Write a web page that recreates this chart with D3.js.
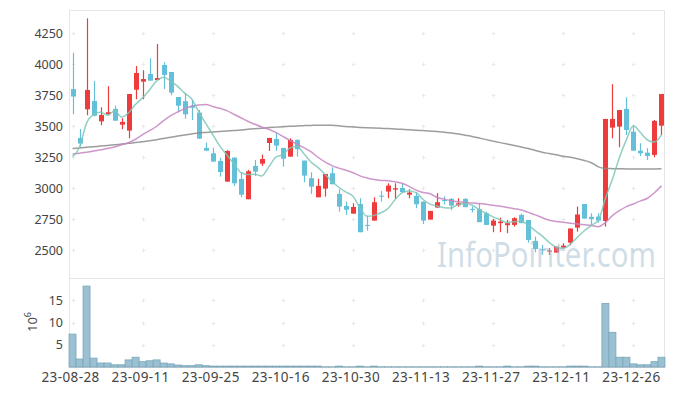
<!DOCTYPE html>
<html><head><meta charset="utf-8">
<script src="https://cdn.jsdelivr.net/npm/d3@7"></script>
<style>body{margin:0;background:#fff} svg{display:block} text{font-family:"Noto Sans",sans-serif}</style>
</head><body><svg id="c" width="673" height="396"></svg>
<script>
const dates = ["23-08-28","23-08-29","23-08-30","23-08-31","23-09-01","23-09-04","23-09-05","23-09-06","23-09-07","23-09-08",
"23-09-11","23-09-12","23-09-13","23-09-14","23-09-15","23-09-18","23-09-19","23-09-20","23-09-21","23-09-22",
"23-09-25","23-09-26","23-09-27","23-10-04","23-10-05","23-10-06","23-10-10","23-10-11","23-10-12","23-10-13",
"23-10-16","23-10-17","23-10-18","23-10-19","23-10-20","23-10-23","23-10-24","23-10-25","23-10-26","23-10-27",
"23-10-30","23-10-31","23-11-01","23-11-02","23-11-03","23-11-06","23-11-07","23-11-08","23-11-09","23-11-10",
"23-11-13","23-11-14","23-11-15","23-11-16","23-11-17","23-11-20","23-11-21","23-11-22","23-11-23","23-11-24",
"23-11-27","23-11-28","23-11-29","23-11-30","23-12-01","23-12-04","23-12-05","23-12-06","23-12-07","23-12-08",
"23-12-11","23-12-12","23-12-13","23-12-14","23-12-15","23-12-18","23-12-19","23-12-20","23-12-21","23-12-22",
"23-12-26","23-12-27","23-12-28","24-01-02","24-01-03"];
const open  = [3800,3406,3637,3704,3540,3597,3640,3513,3465,3795,3860,3922,3873,3994,3938,3736,3702,3666,3610,3325,
3282,3220,3053,3247,3075,2911,3180,3198,3365,3397,3325,3255,3390,3223,3081,2927,2997,3121,2954,2857,
2795,2873,2704,2739,2940,2973,2989,3002,2948,2938,2892,2747,2844,2905,2914,2863,2914,2833,2831,2798,
2698,2718,2702,2704,2785,2744,2575,2508,2490,2481,2521,2561,2682,2873,2769,2771,2736,3489,3497,3640,
3456,3303,3287,3269,3505];
const high  = [4093,3478,4371,3865,3653,3823,3666,3565,3760,3986,3952,4048,4164,4016,3938,3736,3766,3712,3631,3368,
3327,3247,3306,3247,3129,3148,3228,3271,3406,3448,3325,3403,3395,3223,3129,3077,3115,3169,2992,2892,
2879,2919,2779,2927,2978,3040,3040,3035,2992,2968,2892,2817,2960,2935,2920,2919,2920,2852,2879,2810,
2752,2763,2744,2766,2795,2744,2610,2543,2516,2529,2556,2675,2852,2873,2798,2798,3559,3839,3631,3734,
3497,3363,3323,3551,3760];
const low   = [3597,3335,3589,3580,3508,3589,3545,3476,3403,3718,3718,3868,3873,3800,3750,3618,3561,3550,3400,3303,
3215,3094,3053,3019,2927,2911,3099,3180,3301,3301,3174,3255,3255,3048,2954,2927,2932,3032,2811,2785,
2795,2645,2658,2739,2892,2919,2914,2968,2919,2839,2710,2747,2844,2870,2824,2852,2847,2806,2726,2704,
2645,2645,2637,2690,2718,2561,2484,2463,2462,2481,2516,2540,2650,2755,2704,2723,2690,3403,3331,3430,
3303,3260,3228,3250,3430];
const close = [3740,3360,3793,3585,3591,3613,3545,3535,3760,3930,3881,3868,3889,3914,3771,3666,3597,3650,3400,3303,
3215,3131,3301,3040,2948,3137,3134,3236,3406,3344,3239,3390,3315,3102,3013,3019,3115,3032,2852,2827,
2849,2645,2696,2887,2932,3021,3000,2968,2965,2871,2739,2817,2887,2900,2860,2879,2847,2828,2726,2704,
2739,2731,2718,2758,2718,2583,2510,2502,2497,2529,2537,2675,2788,2755,2750,2739,3559,3559,3631,3470,
3303,3282,3260,3543,3760];
// volume, millions of shares
const volume = [7.4,1.8,18.2,2.0,0.9,0.9,0.5,0.5,1.6,2.2,1.2,1.4,1.6,0.9,0.7,0.45,0.3,0.3,0.5,0.3,
0.2,0.2,0.2,0.2,0.2,0.2,0.2,0.2,0.2,0.2,0.2,0.2,0.2,0.2,0.2,0.2,0.05,0.05,0.2,0.05,
0.05,0.2,0.05,0.2,0.05,0.05,0.05,0.05,0.05,0.05,0.05,0.05,0.05,0.05,0.05,0.05,0.05,0.05,0.2,0.05,
0.05,0.05,0.2,0.05,0.05,0.2,0.2,0.05,0.05,0.05,0.05,0.2,0.2,0.2,0.05,0.05,14.3,7.8,2.2,2.2,
0.7,0.5,0.5,1.2,2.2];
const ma5 = [3255,3330,3525,3595,3614,3588,3625,3574,3609,3677,3730,3795,3866,3896,3865,3822,3767,3720,3617,3523,
3433,3340,3270,3198,3127,3111,3112,3099,3172,3251,3272,3323,3339,3278,3212,3168,3113,3056,3006,2969,
2935,2841,2774,2781,2802,2836,2907,2962,2977,2965,2909,2872,2856,2843,2841,2869,2875,2863,2828,2797,
2769,2746,2724,2730,2733,2702,2657,2614,2562,2524,2515,2548,2605,2657,2701,2741,2918,3072,3248,3392,
3504,3449,3389,3372,3430];
const ma20 = [3277,3283,3290,3300,3310,3320,3333,3350,3368,3395,3432,3465,3500,3545,3585,3615,3642,3662,3672,3676,
3660,3645,3626,3597,3569,3540,3516,3494,3476,3450,3418,3386,3356,3327,3295,3250,3212,3182,3162,3145,
3125,3100,3083,3070,3063,3060,3052,3040,3015,2985,2965,2955,2925,2912,2900,2890,2885,2880,2876,2870,
2862,2855,2845,2835,2825,2805,2785,2762,2742,2732,2725,2718,2712,2706,2700,2690,2723,2779,2819,2852,
2873,2898,2919,2964,3019];
const ma60 = [3320,3325,3330,3335,3340,3345,3350,3356,3362,3368,3375,3383,3392,3402,3412,3421,3430,3438,3446,3450,
3454,3458,3462,3465,3470,3475,3480,3484,3489,3493,3497,3500,3502,3505,3507,3508,3509,3508,3504,3498,
3494,3490,3487,3485,3483,3481,3478,3475,3472,3468,3465,3461,3457,3452,3446,3438,3428,3418,3405,3392,
3380,3368,3356,3345,3333,3320,3305,3290,3280,3270,3258,3250,3238,3224,3206,3172,3160,3158,3157,3156,
3155,3155,3155,3156,3157];
const priceTicks = [2500,2750,3000,3250,3500,3750,4000,4250];
const volTicks = [5,10,15];
const dateTicks = ["23-08-28","23-09-11","23-09-25","23-10-16","23-10-30","23-11-13","23-11-27","23-12-11","23-12-26"];

const svg = d3.select("#c");
const L = 69, R = 665, T = 10, MID = 278, B = 367;
const x = d3.scaleBand().domain(dates).range([L, R]);
const cx = d => x(d) + x.bandwidth()/2;
const y = d3.scaleLinear().domain([2500, 4250]).range([250.2, 33.3]);
const yv = d3.scaleLinear().domain([0, 15]).range([B, 300.3]);
const UP = "#ee3b3b", DOWN = "#64bfd8";

// frame
const fr = svg.append("g").attr("stroke", "#e6e6e6").attr("stroke-width", 1).attr("fill", "none");
fr.append("path").attr("d", `M${L+0.5},${T}V${B}M${L},${T+0.5}H${R}M${R-0.5},${T}V${B}M${L},${MID+0.5}H${R}`);
svg.append("path").attr("d", `M${L},${B+0.5}H${R}`).attr("stroke", "#d6d6d6");

// grid crosses
const crossG = svg.append("g").attr("stroke", "#e9e9e9").attr("stroke-width", 1);
const crossAt = (px, py) => crossG.append("path").attr("d", `M${px-2},${py}H${px+2}M${px},${py-2}V${py+2}`);
dateTicks.forEach(d => {
  priceTicks.forEach(v => crossAt(Math.round(cx(d))+0.5, Math.round(y(v))+0.5));
  volTicks.forEach(v => crossAt(Math.round(cx(d))+0.5, Math.round(yv(v))+0.5));
});

// axes
const yAx = svg.append("g").attr("transform", `translate(${L},0)`)
  .call(d3.axisLeft(y).tickValues(priceTicks).tickFormat(d3.format("d")).tickSize(0).tickPadding(6));
const yvAx = svg.append("g").attr("transform", `translate(${L},0)`)
  .call(d3.axisLeft(yv).tickValues(volTicks).tickFormat(d3.format("d")).tickSize(0).tickPadding(6));
const xAx = svg.append("g").attr("transform", `translate(0,${B})`)
  .call(d3.axisBottom(x).tickValues(dateTicks).tickSize(0).tickPadding(5));
[yAx, yvAx, xAx].forEach(g => {
  g.select(".domain").remove();
  g.selectAll("text").attr("fill", "#444").attr("font-size", 12.5).attr("font-family", '"Noto Sans",sans-serif');
});
xAx.selectAll("text").attr("font-size", 13.5).attr("letter-spacing", 0.4).attr("dx", -2);

// 10^6 label
const ul = svg.append("text").attr("transform", "translate(37,322) rotate(-90)")
  .attr("text-anchor", "middle").attr("font-size", 13).attr("fill", "#444");
ul.append("tspan").text("10");
ul.append("tspan").attr("font-size", 9).attr("dy", -6).text("6");

// volume bars
svg.append("g").selectAll("rect").data(dates).join("rect")
  .attr("x", d => x(d)).attr("width", x.bandwidth())
  .attr("y", (d, i) => yv(volume[i])).attr("height", (d, i) => B - yv(volume[i]))
  .attr("fill", "#9ac0d2").attr("stroke", "#79a6bb").attr("stroke-width", 0.8);

// candles
const cg = svg.append("g");
dates.forEach((d, i) => {
  const col = close[i] >= open[i] ? UP : DOWN;
  const xc = Math.round(cx(d)) + 0.5;
  cg.append("line").attr("x1", xc).attr("x2", xc).attr("y1", y(high[i])).attr("y2", y(low[i]))
    .attr("stroke", col).attr("stroke-width", 1.2);
  const top = y(Math.max(open[i], close[i])), bot = y(Math.min(open[i], close[i]));
  cg.append("rect").attr("x", xc - 2.5).attr("width", 5).attr("y", top).attr("height", Math.max(1, bot - top))
    .attr("fill", col);
});

// moving averages
const line = arr => d3.line().x((d, i) => cx(dates[i])).y(d => y(d)).curve(d3.curveMonotoneX)(arr);
svg.append("path").attr("d", line(ma60)).attr("fill", "none").attr("stroke", "#8c8c8c").attr("stroke-width", 1.5).attr("opacity", 0.85);
svg.append("path").attr("d", line(ma20)).attr("fill", "none").attr("stroke", "#c585c2").attr("stroke-width", 1.5).attr("opacity", 0.85);
svg.append("path").attr("d", line(ma5)).attr("fill", "none").attr("stroke", "#7dc7b9").attr("stroke-width", 1.5).attr("opacity", 0.85);

// watermark, semi-transparent on top
svg.append("text").attr("x", 437).attr("y", 267).attr("font-size", 35)
  .attr("textLength", 219).attr("lengthAdjust", "spacingAndGlyphs")
  .attr("fill", "#9fbbcd").attr("fill-opacity", 0.5).text("InfoPointer.com");
</script></body></html>
